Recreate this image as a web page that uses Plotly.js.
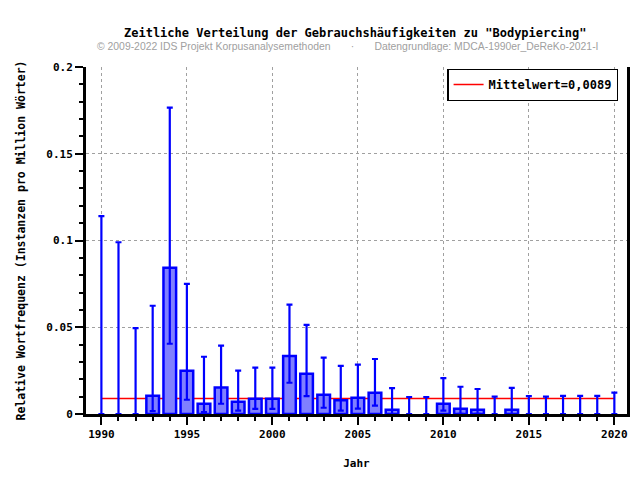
<!DOCTYPE html>
<html>
<head>
<meta charset="utf-8">
<script src="https://cdn.plot.ly/plotly-3.0.1.min.js"></script>
<style>html,body{margin:0;padding:0;background:#fff;}#chart{width:640px;height:480px;}</style>
</head>
<body>
<div id="chart"></div>
<script>
const years = [1990,1991,1992,1993,1994,1995,1996,1997,1998,1999,2000,2001,2002,2003,2004,2005,2006,2007,2008,2009,2010,2011,2012,2013,2014,2015,2016,2017,2018,2019,2020];
const freq  = [0,0,0,0.0105,0.0843,0.0250,0.0059,0.0153,0.0071,0.0088,0.0088,0.0335,0.0232,0.0111,0.0079,0.0094,0.0123,0.0025,0,0,0.0059,0.0030,0.0025,0,0.0025,0,0,0,0,0,0];
const upper = [0.1140,0.0990,0.0495,0.0624,0.1766,0.0750,0.0330,0.0394,0.0250,0.0267,0.0267,0.0630,0.0514,0.0325,0.0277,0.0285,0.0317,0.0149,0.0098,0.0098,0.0207,0.0157,0.0144,0.0100,0.0151,0.0103,0.0100,0.0105,0.0105,0.0105,0.0123];
const lower = [0,0,0,0.0017,0.0405,0.0082,0.0011,0.0059,0.0019,0.0030,0.0030,0.0180,0.0103,0.0036,0.0019,0.0031,0.0048,0,0,0,0.0019,0.0001,0.0001,0,0,0,0,0,0,0,0];
const meanValue = [0.0089];
const meanLabel = "Mittelwert=0,0089";

const errPlus = upper.map((u,i)=>u-freq[i]);
const errMinus = lower.map((l,i)=>freq[i]-l);
const outlineWidths = freq.map(v => v > 0 ? 2.5 : 0);

const mono = "DejaVu Sans Mono, monospace";

const traces = [
  {
    type: 'bar', x: years, y: freq, width: 0.74,
    marker: {color: '#8080ff', line: {color: '#0000ff', width: outlineWidths}},
    error_y: {type: 'data', symmetric: false, array: errPlus, arrayminus: errMinus,
              color: '#0000ff', thickness: 2.2, width: 3},
    showlegend: false
  }
];

const layout = {
  width: 640, height: 480,
  margin: {l: 86, r: 13, t: 67, b: 66},
  paper_bgcolor: '#fff', plot_bgcolor: '#fff',
  title: {text: 'Zeitliche Verteilung der Gebrauchshäufigkeiten zu "Bodypiercing"',
          font: {family: mono, size: 12, color: '#000', weight: 'bold'},
          x: 0.555, xanchor: 'center', y: 0.931, yanchor: 'middle'},
  showlegend: true,
  legend: {x: 0.668, y: 0.995, xanchor: 'left', yanchor: 'top',
           bgcolor: '#fff', bordercolor: '#000', borderwidth: 1.2,
           font: {family: mono, size: 12, color: '#000', weight: 'bold'}},
  shapes: [{
    type: 'line', xref: 'x', yref: 'y', layer: 'below',
    x0: years[0], x1: years[years.length-1], y0: meanValue[0], y1: meanValue[0],
    line: {color: '#ff0000', width: 1.5},
    showlegend: true, name: meanLabel
  }],
  xaxis: {
    range: [1989.1, 2020.74], tickmode: 'array', tickvals: [1990,1995,2000,2005,2010,2015,2020],
    ticks: 'outside', ticklen: 8, tickwidth: 2, tickcolor: '#000',
    showline: true, linecolor: '#000', linewidth: 3, mirror: false,
    showgrid: true, gridcolor: '#a0a0a0', griddash: 'dot', gridwidth: 1,
    zeroline: false,
    minor: {dtick: 1, tick0: 1990, ticks: 'outside', ticklen: 4, tickwidth: 2, tickcolor: '#000', showgrid: false},
    tickfont: {family: mono, size: 11, color: '#000', weight: 'bold'},
    title: {text: 'Jahr', font: {family: mono, size: 11, color: '#000', weight: 'bold'}, standoff: 20}
  },
  yaxis: {
    range: [0, 0.2], tickmode: 'array', tickvals: [0,0.05,0.1,0.15,0.2], ticktext: ['0','0.05','0.1','0.15','0.2'],
    ticks: 'outside', ticklen: 8, tickwidth: 2, tickcolor: '#000',
    showline: true, linecolor: '#000', linewidth: 3, mirror: true,
    showgrid: true, gridcolor: '#a0a0a0', griddash: 'dot', gridwidth: 1,
    zeroline: false,
    minor: {dtick: 0.01, tick0: 0, ticks: 'outside', ticklen: 4, tickwidth: 2, tickcolor: '#000', showgrid: false},
    tickfont: {family: mono, size: 11, color: '#000', weight: 'bold'},
    title: {text: 'Relative Wortfrequenz (Instanzen pro Million Wörter)', font: {family: mono, size: 11.5, color: '#000', weight: 'bold'}, standoff: 19}
  },
  annotations: [{
    xref: 'paper', yref: 'paper', x: 0.4834, y: 1.06, xanchor: 'center', yanchor: 'middle',
    showarrow: false,
    text: '© 2009-2022 IDS Projekt Korpusanalysemethoden\u00a0\u00a0\u00a0\u00a0\u00a0\u00a0\u00a0·\u00a0\u00a0\u00a0\u00a0\u00a0\u00a0\u00a0Datengrundlage: MDCA-1990er_DeReKo-2021-I',
    font: {family: 'Liberation Sans, Arial, sans-serif', size: 10.4, color: '#a0a0a0'}
  }]
};

Plotly.newPlot('chart', traces, layout, {displayModeBar: false, staticPlot: true});
</script>
</body>
</html>
